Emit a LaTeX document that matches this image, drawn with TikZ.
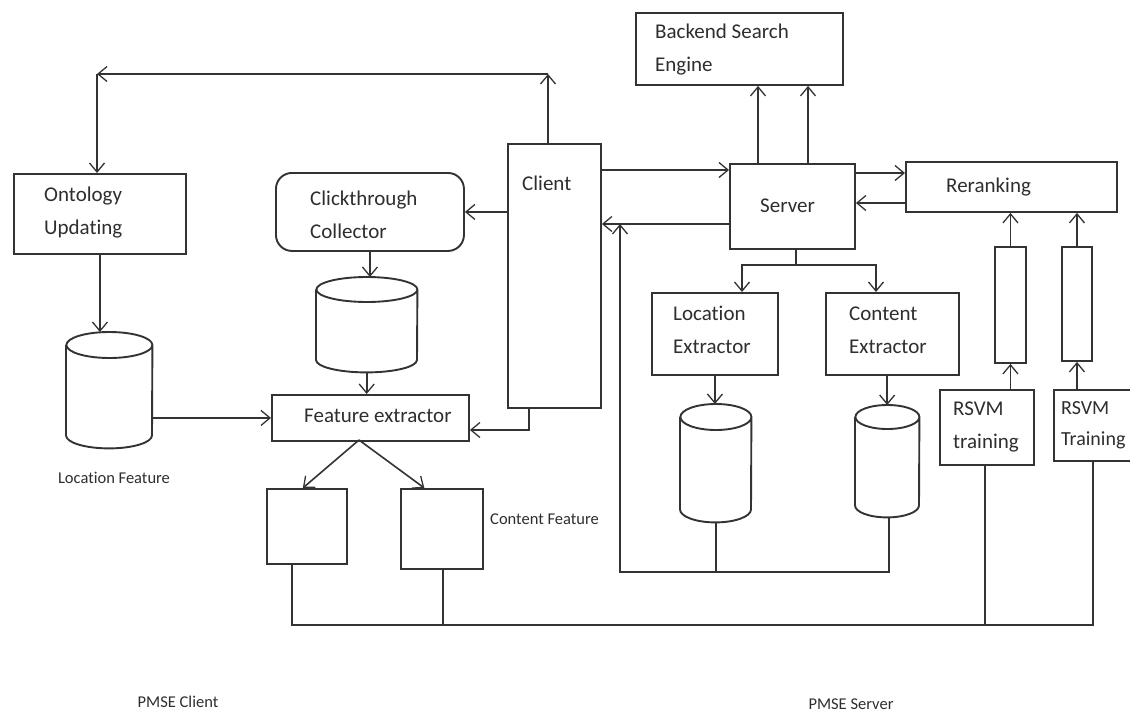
\documentclass[tikz,border=0pt]{standalone}
\usepackage{fontspec}
\setmainfont{Carlito}[Ligatures=NoCommon]
\usetikzlibrary{arrows.meta,calc}
\definecolor{ln}{HTML}{333333}
\definecolor{tx}{HTML}{2E2E2E}
\newcommand{\dbcyl}[3]{%
  \draw[cylline] ([yshift=-#3pt]#1.north west) -- ([yshift=#3pt]#1.south west)
    arc[start angle=180,end angle=360,x radius=#2pt,y radius=#3pt]
    -- ([yshift=-#3pt]#1.north east)
    arc[start angle=0,end angle=360,x radius=#2pt,y radius=#3pt];}
\begin{document}
\begin{tikzpicture}[x=1pt,y=-1pt,
  box/.style={draw=ln, line width=1.9pt, inner sep=0pt, anchor=north west},
  cylline/.style={draw=ln, line width=1.9pt},
  cylbox/.style={inner sep=0pt, anchor=north west, draw=none},
  ln/.style={draw=ln, line width=1.6pt},
  arr/.style={ln, -{Straight Barb[length=9pt,width=15pt,line width=1.3pt]}},
  lbl/.style={inner sep=0pt, anchor=west, align=left, text=tx, font=\fontsize{21}{33}\selectfont},
  small/.style={inner sep=0pt, text=tx, font=\fontsize{16.5}{19}\selectfont},
]
\fill[white] (0,0) rectangle (1130,717);
\useasboundingbox (0,0) rectangle (1130,717);

% boxes
\node[box, minimum width=207pt, minimum height=72pt] (backend) at (635,12) {};
\node[box, minimum width=172pt, minimum height=80pt] (onto) at (13,173) {};
\node[box, rounded corners=16pt, minimum width=188pt, minimum height=78pt] (click) at (275,172) {};
\node[box, minimum width=93pt, minimum height=264pt] (client) at (507,143) {};
\node[box, minimum width=125pt, minimum height=85pt] (server) at (729,163) {};
\node[box, minimum width=211pt, minimum height=50pt] (rerank) at (905,161) {};
\node[box, minimum width=197pt, minimum height=46pt] (fe) at (271,394) {};
\node[box, minimum width=80pt, minimum height=75pt] (lfbox) at (266,488) {};
\node[box, minimum width=82pt, minimum height=80pt] (cfbox) at (400,488) {};
\node[box, minimum width=126pt, minimum height=82pt] (locx) at (651,292) {};
\node[box, minimum width=133pt, minimum height=82pt] (conx) at (825,292) {};
\node[box, minimum width=31pt, minimum height=116pt] (bar1) at (994,246) {};
\node[box, minimum width=30pt, minimum height=114pt] (bar2) at (1061,246) {};
\node[box, minimum width=94pt, minimum height=75pt] (rsvm1) at (939,389) {};
\node[box, minimum width=84pt, minimum height=71pt] (rsvm2) at (1053,389) {};

% cylinders
\node[cylbox, minimum width=86pt, minimum height=116pt] (locf) at (66,332) {};
\node[cylbox, minimum width=101pt, minimum height=95pt] (clickdb) at (316,277) {};
\node[cylbox, minimum width=71pt, minimum height=118pt] (locdb) at (680,404) {};
\node[cylbox, minimum width=64pt, minimum height=112pt] (condb) at (855,405) {};
\dbcyl{locf}{43}{13}
\dbcyl{clickdb}{50.5}{12.5}
\dbcyl{locdb}{35.5}{13}
\dbcyl{condb}{32}{12}

% texts
\node[lbl] (backend-t) at (655,50) {Backend Search\\Engine};
\node[lbl] (onto-t) at (44,213) {Ontology\\Updating};
\node[lbl] (click-t) at (310,215) {Clickthrough\\Collector};
\node[lbl] (client-t) at (522,183) {Client};
\node[lbl] (server-t) at (760,206) {Server};
\node[lbl] (rerank-t) at (946,187) {Reranking};
\node[lbl] (fe-t) at (304,416) {Feature extractor};
\node[lbl] (locx-t) at (673,330) {Location\\Extractor};
\node[lbl] (conx-t) at (849,330) {Content\\Extractor};
\node[lbl] (rsvm1-t) at (953,427) {RSVM\\training};
\node[lbl, font=\fontsize{20}{31}\selectfont] (rsvm2-t) at (1061,425) {RSVM\\Training};
\node[small] (locf-t) at (114,478) {Location Feature};
\node[small, anchor=west] (cf-t) at (490,519) {Content Feature};
\node[small] (pc-t) at (178,702) {PMSE Client};
\node[small] (ps-t) at (851,704) {PMSE Server};

% helper coordinates
\coordinate (tr) at (548,74);
\coordinate (tl) at (97,74);
\coordinate (cb) at (529,430);
\coordinate (sp) at (359,440);
\coordinate (ya) at (0,170);
\coordinate (yb) at (0,224);
\coordinate (v1) at (620,572);
\coordinate (v2) at (889,572);
\coordinate (sb) at (796,265);
\coordinate (sbl) at (742,265);
\coordinate (sbr) at (876,265);
\coordinate (be1) at (758,0);
\coordinate (be2) at (808,0);
\coordinate (rr1) at (0,173);
\coordinate (rr2) at (0,203);
\coordinate (b1) at (292,625);
\coordinate (b2) at (443,625);
\coordinate (b3) at (985,625);
\coordinate (b4) at (1093,625);

% client side connectors
\draw[arr] (tr |- client.north) -- (tr);
\draw[arr] (tr) -- (tl);
\draw[arr] (tl) -- (tl |- onto.north);
\draw[arr] (onto.south) -- (onto.south |- locf.north);
\draw[arr] (locf.east |- fe.west) -- (fe.west);
\draw[arr] (click.south) -- (click.south |- clickdb.north);
\draw[arr] (clickdb.south) -- (clickdb.south |- fe.north);
\draw[arr] (client.west |- click.east) -- (click.east);
\draw[arr] (cb |- client.south) -- (cb) -- (cb -| fe.east);
\draw[arr] (sp) -- ($(lfbox.north west)!0.45!(lfbox.north east)$);
\draw[arr] (sp) -- ($(cfbox.north west)!0.29!(cfbox.north east)$);
\draw[ln] (b1 |- lfbox.south) -- (b1) -- (b4) -- (b4 |- rsvm2.south);
\draw[ln] (b2 |- cfbox.south) -- (b2);
\draw[ln] (b3 |- rsvm1.south) -- (b3);

% server side connectors
\draw[arr] (client.east |- ya) -- (server.west |- ya);
\draw[arr] (server.west |- yb) -- (client.east |- yb);
\draw[arr] (v2 |- condb.south) -- (v2) -- (v1) -- (v1 |- yb);
\draw[ln] (locdb.south) -- (locdb.south |- v1);
\draw[arr] (be1 |- server.north) -- (be1 |- backend.south);
\draw[arr] (be2 |- server.north) -- (be2 |- backend.south);
\draw[arr] (server.east |- rr1) -- (rerank.west |- rr1);
\draw[arr] (rerank.west |- rr2) -- (server.east |- rr2);
\draw[ln] (sb |- server.south) -- (sb);
\draw[arr] (sb) -- (sbl) -- (sbl |- locx.north);
\draw[arr] (sb) -- (sbr) -- (sbr |- conx.north);
\draw[arr] (locx.south) -- (locx.south |- locdb.north);
\draw[arr] (condb.north |- conx.south) -- (condb.north);
\draw[arr] (bar1.south |- rsvm1.north) -- (bar1.south);
\draw[arr] (bar1.north) -- (bar1.north |- rerank.south);
\draw[arr] (bar2.south |- rsvm2.north) -- (bar2.south);
\draw[arr] (bar2.north) -- (bar2.north |- rerank.south);
\end{tikzpicture}
\end{document}
